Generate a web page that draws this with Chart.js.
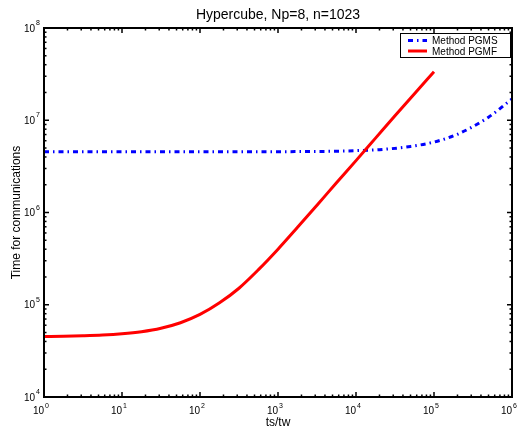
<!DOCTYPE html>
<html><head><meta charset="utf-8">
<script src="https://cdn.jsdelivr.net/npm/chart.js@4/dist/chart.umd.min.js"></script>
<style>html,body{margin:0;padding:0;background:#fff}#wrap{width:520px;height:435px}</style>
</head><body><div id="wrap"><canvas id="c" width="520" height="435"></canvas></div>
<script>
// ---- data ----
const titleText = 'Hypercube, Np=8, n=1023';
const xAxisTitle = 'ts/tw';
const yAxisTitle = 'Time for communications';
const seriesNames = ['Method PGMS', 'Method PGMF'];
const xTickExponents = [0, 1, 2, 3, 4, 5, 6];
const yTickExponents = [4, 5, 6, 7, 8];

const pgmsRatio = [1, 2, 5, 10, 20, 50, 100, 200, 500, 1000, 2000, 5000, 10000, 20000, 50000, 100000, 200000, 500000, 1000000];
const pgmsTime  = [4.55e6, 4.55e6, 4.55e6, 4.55e6, 4.55e6, 4.55e6, 4.55e6, 4.55e6, 4.56e6, 4.56e6, 4.58e6, 4.61e6, 4.68e6, 4.8e6, 5.2e6, 5.8e6, 7.05e6, 1.08e7, 1.7e7];

const pgmfRatio = [1, 1.78, 3.16, 5.62, 10, 17.8, 31.6, 56.2, 100, 178, 316, 562, 1000, 1780, 3160, 5620, 10000, 17800, 31600, 56200, 100000];
const pgmfTime  = [4.53e4, 4.56e4, 4.61e4, 4.69e4, 4.84e4, 5.1e4, 5.56e4, 6.38e4, 7.85e4, 1.05e5, 1.51e5, 2.4e5, 4.0e5, 6.9e5, 1.2e6, 2.1e6, 3.65e6, 6.4e6, 1.12e7, 1.94e7, 3.35e7];

const FONT = '"Liberation Sans", Arial, Helvetica, sans-serif';

const framePlugin = {
  id: 'matlabFrame',
  afterDatasetsDraw(chart) {
    const ctx = chart.ctx;
    const a = chart.chartArea;
    const xs = chart.scales.x, ys = chart.scales.y;
    ctx.save();
    ctx.strokeStyle = '#000';
    ctx.fillStyle = '#000';
    // ticks
    ctx.lineWidth = 1.5;
    const tick = (x1, y1, x2, y2) => { ctx.beginPath(); ctx.moveTo(x1, y1); ctx.lineTo(x2, y2); ctx.stroke(); };
    for (let e = xTickExponents[0]; e <= xTickExponents[xTickExponents.length - 1]; e++) {
      for (let m = 1; m <= 9; m++) {
        const v = m * Math.pow(10, e);
        if (v > xs.max) break;
        const px = xs.getPixelForValue(v);
        const L = m === 1 ? 5 : 2.5;
        tick(px, a.bottom, px, a.bottom - L);
        tick(px, a.top, px, a.top + L);
      }
    }
    for (let e = yTickExponents[0]; e <= yTickExponents[yTickExponents.length - 1]; e++) {
      for (let m = 1; m <= 9; m++) {
        const v = m * Math.pow(10, e);
        if (v > ys.max) break;
        const py = ys.getPixelForValue(v);
        const L = m === 1 ? 5 : 2.5;
        tick(a.left, py, a.left + L, py);
        tick(a.right, py, a.right - L, py);
      }
    }
    // frame
    ctx.lineWidth = 2;
    ctx.strokeRect(a.left, a.top, a.right - a.left, a.bottom - a.top);

    // x tick labels
    xTickExponents.forEach(e => {
      const px = xs.getPixelForValue(Math.pow(10, e));
      ctx.font = '10px ' + FONT;
      ctx.textAlign = 'right'; ctx.textBaseline = 'alphabetic';
      ctx.fillText('10', px, a.bottom + 17);
      ctx.font = '7px ' + FONT;
      ctx.textAlign = 'left';
      ctx.fillText(String(e), px + 1, a.bottom + 11);
    });
    // y tick labels
    yTickExponents.forEach(e => {
      const py = ys.getPixelForValue(Math.pow(10, e));
      ctx.font = '10px ' + FONT;
      ctx.textAlign = 'right'; ctx.textBaseline = 'alphabetic';
      ctx.fillText('10', 35, py + 3.5);
      ctx.font = '7px ' + FONT;
      ctx.textAlign = 'left';
      ctx.fillText(String(e), 36, py - 3);
    });
    // titles
    const cx = (a.left + a.right) / 2, cy = (a.top + a.bottom) / 2;
    ctx.textAlign = 'center'; ctx.textBaseline = 'alphabetic';
    ctx.font = '14px ' + FONT;
    ctx.fillText(titleText, cx, 19);
    ctx.font = '12px ' + FONT;
    ctx.fillText(xAxisTitle, cx, a.bottom + 29);
    ctx.save();
    ctx.translate(19.5, cy);
    ctx.rotate(-Math.PI / 2);
    ctx.fillText(yAxisTitle, 0, 0);
    ctx.restore();

    // legend box
    const lx = 400, ly = 33, lw = 110, lh = 24;
    ctx.fillStyle = '#fff';
    ctx.fillRect(lx, ly, lw, lh);
    ctx.lineWidth = 1;
    ctx.strokeStyle = '#000';
    ctx.strokeRect(lx + 0.5, ly + 0.5, lw, lh);
    const dss = chart.data.datasets;
    [0, 1].forEach((i, r) => {
      const ds = dss[i];
      const y = ly + 7.5 + r * 10.5;
      ctx.save();
      ctx.strokeStyle = ds.borderColor;
      ctx.lineWidth = ds.borderWidth;
      ctx.setLineDash(ds.borderDash || []);
      ctx.beginPath(); ctx.moveTo(408, y); ctx.lineTo(427, y); ctx.stroke();
      ctx.restore();
      ctx.fillStyle = '#000';
      ctx.font = '10px ' + FONT;
      ctx.textAlign = 'left'; ctx.textBaseline = 'alphabetic';
      ctx.fillText(ds.label, 432, y + 3.5);
    });
    ctx.restore();
  }
};

new Chart(document.getElementById('c'), {
  type: 'line',
  data: {
    datasets: [
      {
        label: seriesNames[0],
        data: pgmsRatio.map((x, i) => ({ x, y: pgmsTime[i] })),
        borderColor: '#0000ff',
        borderWidth: 3,
        borderDash: [5, 4, 1.5, 4],
        pointRadius: 0,
        cubicInterpolationMode: 'monotone',
        fill: false,
        order: 1
      },
      {
        label: seriesNames[1],
        data: pgmfRatio.map((x, i) => ({ x, y: pgmfTime[i] })),
        borderColor: '#ff0000',
        borderWidth: 3,
        pointRadius: 0,
        cubicInterpolationMode: 'monotone',
        fill: false,
        order: 0
      }
    ]
  },
  options: {
    responsive: false,
    animation: false,
    layout: { padding: { left: 44, right: 8, top: 28, bottom: 38 } },
    scales: {
      x: { type: 'logarithmic', min: 1, max: 1e6, display: false },
      y: { type: 'logarithmic', min: 1e4, max: 1e8, display: false }
    },
    plugins: { legend: { display: false }, tooltip: { enabled: false }, title: { display: false } }
  },
  plugins: [framePlugin]
});
</script>
</body></html>
